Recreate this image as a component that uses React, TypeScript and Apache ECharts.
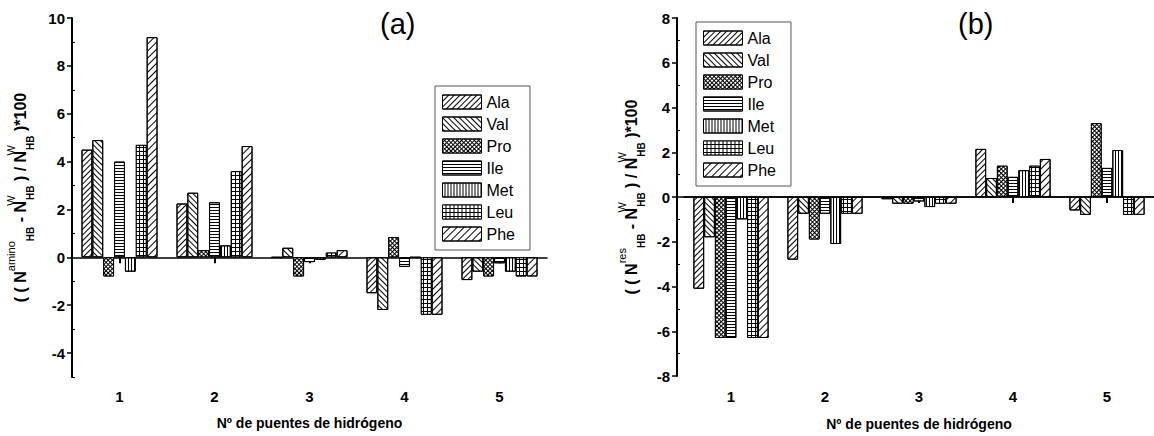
import React, { useEffect, useRef } from 'react';
import * as echarts from 'echarts';

// ---------- data ----------
const categories = ['1', '2', '3', '4', '5'];
const seriesNames = ['Ala', 'Val', 'Pro', 'Ile', 'Met', 'Leu', 'Phe'];

// panel (a)
const aAla = [4.5, 2.25, 0, -1.5, -0.95];
const aVal = [4.9, 2.7, 0.4, -2.2, -0.6];
const aPro = [-0.8, 0.3, -0.8, 0.85, -0.8];
const aIle = [4.0, 2.3, -0.2, -0.4, -0.25];
const aMet = [-0.6, 0.5, -0.1, 0, -0.6];
const aLeu = [4.7, 3.6, 0.2, -2.4, -0.8];
const aPhe = [9.2, 4.65, 0.3, -2.4, -0.8];

// panel (b)
const bAla = [-4.1, -2.8, -0.1, 2.15, -0.6];
const bVal = [-1.8, -0.75, -0.3, 0.85, -0.8];
const bPro = [-6.3, -1.9, -0.3, 1.4, 3.3];
const bIle = [-6.3, -0.75, -0.2, 0.9, 1.3];
const bMet = [-1.0, -2.1, -0.45, 1.2, 2.1];
const bLeu = [-6.3, -0.75, -0.3, 1.4, -0.8];
const bPhe = [-6.3, -0.75, -0.3, 1.7, -0.8];

const yTicksA = [-4, -2, 0, 2, 4, 6, 8, 10];
const yMinorA = [-5, -3, -1, 1, 3, 5, 7, 9];
const yTicksB = [-8, -6, -4, -2, 0, 2, 4, 6, 8];
const yMinorB = [-7, -5, -3, -1, 1, 3, 5, 7];

const xTitle = 'Nº de puentes de hidrógeno';
const yTitleA = '{m|( ( N}{sup|amino}{sub|HB}{m| - N}{supz|W}{sub|HB}{m| ) / N}{supz|W}{sub|HB}{m| )*100}';
const yTitleB = '{m|( ( N}{sup|res}{sub|HB}{m| - N}{supz|W}{sub|HB}{m| ) / N}{supz|W}{sub|HB}{m| )*100}';

// ---------- styles ----------
const FONT = '"Liberation Sans", Arial, sans-serif';

const hatch = (period: number, rot: number) => ({
  symbol: 'rect',
  symbolSize: 1,
  dashArrayX: [1, 0],
  dashArrayY: [1, period - 1],
  rotation: rot,
  color: '#000',
});
// white cells over a black bar -> black mesh lines
const mesh = (cell: number, rot: number) => ({
  symbol: 'rect',
  symbolSize: 1,
  dashArrayX: [cell, 1],
  dashArrayY: [cell, 1],
  rotation: rot,
  color: '#fff',
});

const decals = [
  hatch(4, -Math.PI / 4), // Ala
  hatch(4, Math.PI / 4), // Val
  mesh(2, Math.PI / 4), // Pro
  hatch(3, 0), // Ile
  hatch(3, Math.PI / 2), // Met
  mesh(3, 0), // Leu
  hatch(5, -Math.PI / 4), // Phe
];
const fills = ['#fff', '#fff', '#000', '#fff', '#fff', '#000', '#fff'];

const rich = {
  m: { fontSize: 16, fontWeight: 'bold', color: '#000', lineHeight: 30, fontFamily: FONT },
  sup: { fontSize: 11, color: '#000', verticalAlign: 'top', lineHeight: 12, fontFamily: FONT },
  supz: { fontSize: 11, color: '#000', verticalAlign: 'top', lineHeight: 12, width: 1, fontFamily: FONT },
  sub: { fontSize: 10, fontWeight: 'bold', color: '#000', verticalAlign: 'bottom', lineHeight: 10, fontFamily: FONT },
};

const labelStyle = { fontSize: 14, fontWeight: 'bold', color: '#000', fontFamily: FONT };
const tickLabelStyle = { fontSize: 15, fontWeight: 'bold', color: '#000', fontFamily: FONT };

function zeroXAxis(gridIndex: number) {
  return {
    type: 'category',
    gridIndex,
    data: categories,
    position: 'bottom',
    axisLine: { show: true, onZero: true, lineStyle: { color: '#000', width: 1.5 } },
    axisTick: { show: true, alignWithLabel: true, length: 6, lineStyle: { color: '#000', width: 2 } },
    axisLabel: { show: false },
    splitLine: { show: false },
  };
}
function labelXAxis(gridIndex: number, margin: number, nameGap: number) {
  return {
    type: 'category',
    gridIndex,
    data: categories,
    position: 'bottom',
    axisLine: { show: false, onZero: false },
    axisTick: { show: false },
    axisLabel: { ...tickLabelStyle, margin },
    splitLine: { show: false },
    name: xTitle,
    nameLocation: 'middle',
    nameGap,
    nameTextStyle: labelStyle,
  };
}
function mainYAxis(gridIndex: number, min: number, max: number, ticks: number[], name: string, nameGap: number) {
  return {
    type: 'value',
    gridIndex,
    min,
    max,
    position: 'left',
    axisLine: { show: true, onZero: false, lineStyle: { color: '#000', width: 2 } },
    axisTick: { show: true, length: 5, customValues: ticks, lineStyle: { color: '#000', width: 1.5 } },
    axisLabel: { ...tickLabelStyle, margin: 7, customValues: ticks },
    splitLine: { show: false },
    name,
    nameLocation: 'middle',
    nameRotate: 90,
    nameGap,
    nameTextStyle: { rich, color: '#000' },
  };
}
function minorYAxis(gridIndex: number, min: number, max: number, ticks: number[]) {
  return {
    type: 'value',
    gridIndex,
    min,
    max,
    position: 'left',
    axisLine: { show: false, onZero: false },
    axisTick: { show: true, inside: true, length: 3, customValues: ticks, lineStyle: { color: '#000', width: 1 } },
    axisLabel: { show: false },
    splitLine: { show: false },
  };
}

function barSeries(name: string, data: number[], i: number, xAxisIndex: number, yAxisIndex: number) {
  return {
    type: 'bar',
    name,
    data,
    xAxisIndex,
    yAxisIndex,
    barGap: '0%',
    barCategoryGap: '20%',
    silent: true,
    itemStyle: { color: fills[i], borderColor: '#000', borderWidth: 1, decal: decals[i] },
    emphasis: { disabled: true },
  };
}

function legend(left: number, top: number) {
  return {
    orient: 'vertical',
    left,
    top,
    data: seriesNames,
    icon: 'rect',
    itemWidth: 39,
    itemHeight: 14,
    itemGap: 6,
    padding: [8, 15, 8, 7],
    borderColor: '#555',
    borderWidth: 1,
    selectedMode: false,
    itemStyle: { borderColor: '#000', borderWidth: 1 },
    textStyle: { fontSize: 16, color: '#000', fontFamily: FONT },
  };
}

export default function App() {
  const ref = useRef<HTMLDivElement>(null);
  useEffect(() => {
    document.body.style.margin = '0';
    if (!ref.current) return;
    const chart = echarts.init(ref.current, null, { renderer: 'svg' });
    const aData = [aAla, aVal, aPro, aIle, aMet, aLeu, aPhe];
    const bData = [bAla, bVal, bPro, bIle, bMet, bLeu, bPhe];
    const option: any = {
      animation: false,
      backgroundColor: '#fff',
      textStyle: { fontFamily: FONT },
      title: [
        { text: '(a)', left: 380, top: 9, padding: 0, textStyle: { fontSize: 29, fontWeight: 'normal', color: '#000', fontFamily: FONT } },
        { text: '(b)', left: 958, top: 9, padding: 0, textStyle: { fontSize: 29, fontWeight: 'normal', color: '#000', fontFamily: FONT } },
      ],
      legend: [legend(435, 86), legend(696, 22)],
      grid: [
        { left: 72, top: 18, width: 475, height: 359, containLabel: false },
        { left: 684, top: 18, width: 470, height: 358, containLabel: false },
        { left: 677, top: 18, width: 477, height: 358, containLabel: false },
      ],
      xAxis: [
        zeroXAxis(0),
        labelXAxis(0, 12, 39),
        zeroXAxis(1),
        labelXAxis(1, 13, 41),
        {
          type: 'value',
          gridIndex: 2,
          min: 0,
          max: 1,
          axisLine: { show: true, onZero: true, lineStyle: { color: '#000', width: 1.5 } },
          axisTick: { show: false },
          axisLabel: { show: false },
          splitLine: { show: false },
        },
      ],
      yAxis: [
        mainYAxis(0, -5, 10, yTicksA, yTitleA, 37),
        minorYAxis(0, -5, 10, yMinorA),
        { type: 'value', gridIndex: 1, min: -8, max: 8, show: false },
        mainYAxis(2, -8, 8, yTicksB, yTitleB, 31),
        minorYAxis(2, -8, 8, yMinorB),
      ],
      series: [
        ...seriesNames.map((n, i) => barSeries(n, aData[i], i, 0, 0)),
        ...seriesNames.map((n, i) => barSeries(n, bData[i], i, 2, 2)),
      ],
    };
    chart.setOption(option);
    return () => chart.dispose();
  }, []);
  return <div ref={ref} style={{ position: 'absolute', left: 0, top: 0, width: 1154, height: 436 }} />;
}
